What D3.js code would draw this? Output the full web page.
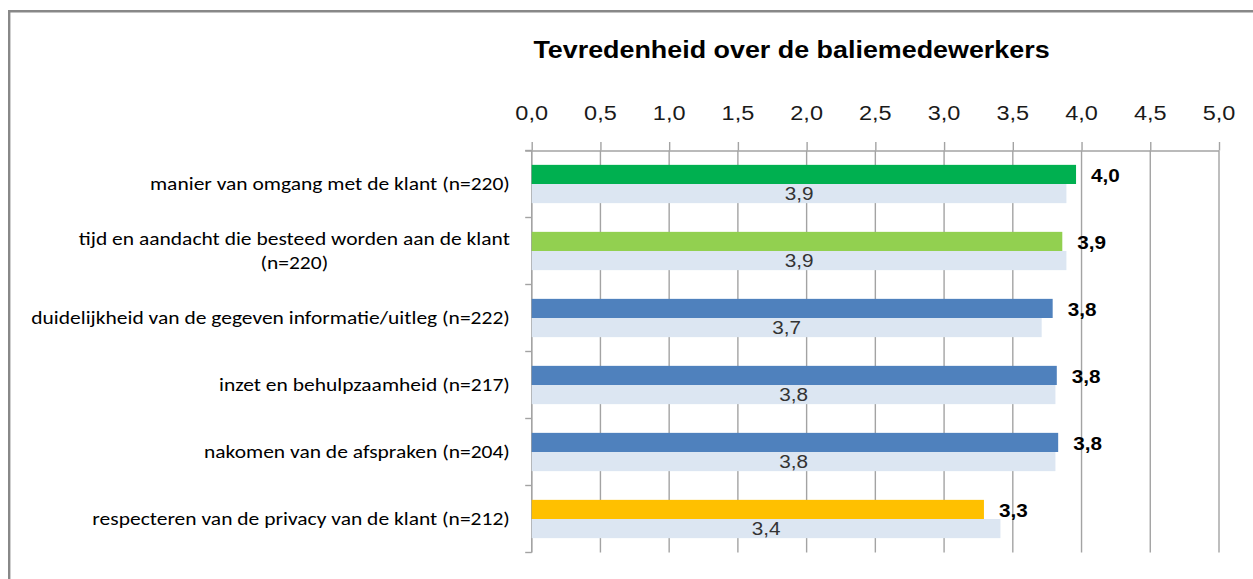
<!DOCTYPE html>
<html><head><meta charset="utf-8">
<script src="https://cdn.jsdelivr.net/npm/d3@7/dist/d3.min.js"></script>
<style>html,body{margin:0;padding:0;background:#fff;} svg{display:block;}</style>
</head><body>
<svg id="chart" width="1253" height="579"></svg>
<script>
// ---- data ----
const chartTitle = "Tevredenheid over de baliemedewerkers";
const categories = [
  "manier van omgang met de klant (n=220)",
  "tijd en aandacht die besteed worden aan de klant\n(n=220)",
  "duidelijkheid van de gegeven informatie/uitleg (n=222)",
  "inzet en behulpzaamheid (n=217)",
  "nakomen van de afspraken (n=204)",
  "respecteren van de privacy van de klant (n=212)"
];
const currentValues  = [3.96, 3.86, 3.79, 3.82, 3.83, 3.29];
const previousValues = [3.89, 3.89, 3.71, 3.81, 3.81, 3.41];
const currentColors  = ["#00B050", "#92D050", "#4F81BD", "#4F81BD", "#4F81BD", "#FFC000"];
const previousColor  = "#DCE6F2";
const tickValues = [0, 0.5, 1, 1.5, 2, 2.5, 3, 3.5, 4, 4.5, 5];
const tickLabels = ["0,0", "0,5", "1,0", "1,5", "2,0", "2,5", "3,0", "3,5", "4,0", "4,5", "5,0"];

// ---- layout ----
const svg = d3.select("#chart");
const W = 1253, H = 579;
const plot = {left: 531.7, right: 1219, top: 150.5, bottom: 552.5};
const stretch = 1.12;
const gridColor = "#a3a3a3";
const fmt = v => d3.format(".1f")(v).replace(".", ",");

svg.append("rect").attr("width", W).attr("height", H).attr("fill", "#fff");
// frame
svg.append("path")
  .attr("d", `M9.2,${H} L9.2,11.2 L${W},11.2`)
  .attr("fill", "none").attr("stroke", "#888").attr("stroke-width", 2.4);

const x = d3.scaleLinear().domain([0, 5]).range([plot.left, plot.right]);
const y = d3.scaleBand().domain(d3.range(categories.length)).range([plot.top, plot.bottom]).paddingInner(0).paddingOuter(0);
const sub = d3.scaleBand().domain(["current", "previous"]).range([0, y.bandwidth()]).paddingInner(0).paddingOuter(0.75);

function stretchedText(g, tx, ty, txt, anchor) {
  return g.append("text")
    .attr("transform", `translate(${tx},${ty}) scale(${stretch},1)`)
    .attr("text-anchor", anchor)
    .attr("dy", "0.35em")
    .text(txt);
}

// gridlines
svg.append("g").selectAll("line").data(tickValues).join("line")
  .attr("x1", d => x(d)).attr("x2", d => x(d))
  .attr("y1", plot.top).attr("y2", plot.bottom)
  .attr("stroke", gridColor).attr("stroke-width", 1.4);

// top axis
const axisG = svg.append("g").attr("transform", `translate(0,${plot.top})`)
  .call(d3.axisTop(x).tickValues(tickValues).tickSizeInner(8.5).tickSizeOuter(0).tickFormat(""));
axisG.select(".domain").attr("stroke", gridColor).attr("stroke-width", 1.4).attr("d", `M${plot.left - 6.5},0.5H${plot.right}`);
axisG.selectAll(".tick line").attr("stroke", gridColor).attr("stroke-width", 1.4);

// tick labels
const tickG = svg.append("g").attr("font-family", "Arial, 'Liberation Sans', sans-serif").attr("font-size", 21).attr("fill", "#1a1a1a");
tickValues.forEach((v, i) => stretchedText(tickG, x(v), 112.5, tickLabels[i], "middle"));

// left axis ticks at band boundaries
const boundaries = d3.range(categories.length).map(i => y(i)).concat([plot.bottom]);
svg.append("g").selectAll("line").data(boundaries).join("line")
  .attr("x1", plot.left - 6.5).attr("x2", plot.left)
  .attr("y1", d => d).attr("y2", d => d)
  .attr("stroke", gridColor).attr("stroke-width", 1.4);
svg.append("line").attr("x1", plot.left).attr("x2", plot.left)
  .attr("y1", plot.top).attr("y2", plot.bottom)
  .attr("stroke", gridColor).attr("stroke-width", 1.4);

// bars
const barsG = svg.append("g");
barsG.selectAll("rect.prev").data(previousValues).join("rect").attr("class", "prev")
  .attr("x", x(0)).attr("y", (d, i) => y(i) + sub("previous"))
  .attr("width", d => x(d) - x(0)).attr("height", sub.bandwidth())
  .attr("fill", previousColor);
barsG.selectAll("rect.cur").data(currentValues).join("rect").attr("class", "cur")
  .attr("x", x(0)).attr("y", (d, i) => y(i) + sub("current"))
  .attr("width", d => x(d) - x(0)).attr("height", sub.bandwidth())
  .attr("fill", (d, i) => currentColors[i]);

// value labels
const valG = svg.append("g").attr("font-family", "Arial, 'Liberation Sans', sans-serif").attr("font-size", 18.5);
currentValues.forEach((v, i) => {
  stretchedText(valG, x(v) + 15, y(i) + sub("current") + sub.bandwidth() / 2 + 1, fmt(v), "start")
    .attr("font-weight", "bold").attr("fill", "#000");
});
previousValues.forEach((v, i) => {
  stretchedText(valG, (x(0) + x(v)) / 2, y(i) + sub("previous") + sub.bandwidth() / 2, fmt(v), "middle")
    .attr("fill", "#333");
});

// category labels
const catG = svg.append("g").attr("font-family", "Carlito, Calibri, Lato, sans-serif").attr("font-size", 17.5).attr("fill", "#000");
const labelRight = 510, targetWidth = 479, lineH = 24.4;
const groups = categories.map((c, i) => {
  const lines = c.split("\n");
  const g = catG.append("g");
  const texts = lines.map(l => g.append("text").attr("text-anchor", "middle").attr("dy", "0.35em").text(l));
  return {i, lines, g, texts};
});
let maxW = 0;
groups.forEach(gr => gr.texts.forEach(t => { maxW = Math.max(maxW, t.node().getComputedTextLength()); }));
const sx = targetWidth / maxW;
groups.forEach(gr => {
  const bw = d3.max(gr.texts, t => t.node().getComputedTextLength()) * sx;
  const cx = labelRight - bw / 2;
  const cy = y(gr.i) + y.bandwidth() / 2;
  const n = gr.texts.length;
  gr.texts.forEach((t, k) => {
    const ty = cy + (k - (n - 1) / 2) * lineH;
    t.attr("transform", `translate(${cx},${ty}) scale(${sx},1)`);
  });
});

// title
const titleG = svg.append("g").attr("font-family", "Arial, 'Liberation Sans', sans-serif").attr("font-size", 24).attr("font-weight", "bold").attr("fill", "#000");
stretchedText(titleG, 791.5, 50, chartTitle, "middle");
</script>
</body></html>
